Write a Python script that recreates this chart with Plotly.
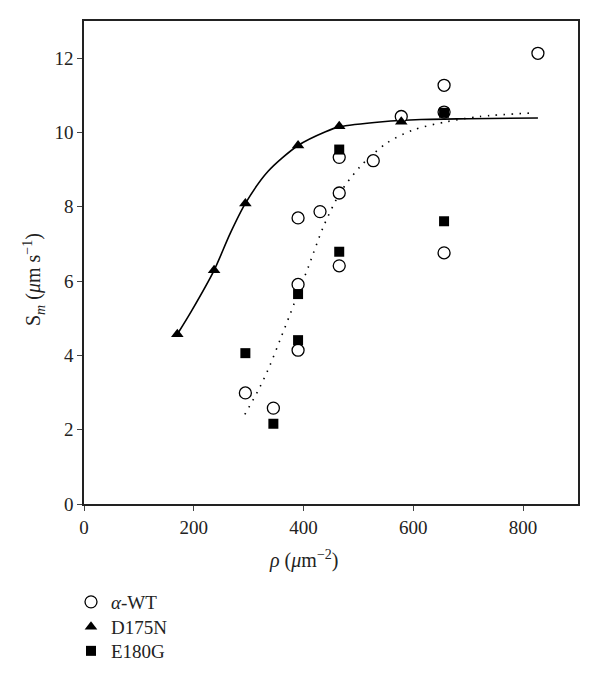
import plotly.graph_objects as go

# --- data ---
wt_x = [294, 345, 390, 390, 390, 430, 465, 465, 465, 527, 578, 656, 656, 656, 827]
wt_y = [2.99, 2.58, 4.14, 5.91, 7.70, 7.87, 6.41, 8.37, 9.33, 9.24, 10.43, 6.76, 10.55, 11.27, 12.13]

d175_x = [170, 237, 294, 390, 465, 578]
d175_y = [4.57, 6.29, 8.09, 9.65, 10.17, 10.29]

e180_x = [294, 345, 390, 390, 465, 465, 656, 656]
e180_y = [4.06, 2.16, 4.41, 5.65, 6.79, 9.54, 7.61, 10.53]

# fitted curves
fit_d175_x = [170, 196, 237, 266, 294, 335, 390, 440, 465, 544, 614, 700, 827]
fit_d175_y = [4.57, 5.2, 6.29, 7.27, 8.09, 8.95, 9.65, 10.02, 10.15, 10.29, 10.35, 10.37, 10.39]

fit_wt_x = [293, 321, 339, 357, 375, 390, 409, 436, 466, 503, 551, 600, 661, 721, 822]
fit_wt_y = [2.41, 3.16, 3.74, 4.41, 5.09, 5.67, 6.39, 7.46, 8.36, 9.08, 9.71, 10.07, 10.29, 10.43, 10.53]

x_ticks = [0, 200, 400, 600, 800]
y_ticks = [0, 2, 4, 6, 8, 10, 12]

SERIF = "Liberation Serif"
FS = 19
W, H = 600, 682

fig = go.Figure()

fig.add_trace(go.Scatter(x=fit_d175_x, y=fit_d175_y, mode="lines",
                         line=dict(color="black", width=1.6, shape="spline", smoothing=0.8),
                         showlegend=False, hoverinfo="skip"))
fig.add_trace(go.Scatter(x=fit_wt_x, y=fit_wt_y, mode="lines",
                         line=dict(color="black", width=1.6, dash="1.5px,6.5px", shape="spline", smoothing=0.8),
                         showlegend=False, hoverinfo="skip"))

fig.add_trace(go.Scatter(x=wt_x, y=wt_y, mode="markers", name="<i>α</i>-WT", legend="legend",
                         marker=dict(symbol="circle", size=12, color="white",
                                     line=dict(color="black", width=1.3))))
fig.add_trace(go.Scatter(x=d175_x, y=d175_y, mode="markers", name="D175N", legend="legend2",
                         marker=dict(symbol="triangle-up", size=11, color="black",
                                     line=dict(width=0))))
fig.add_trace(go.Scatter(x=e180_x, y=e180_y, mode="markers", name="E180G", legend="legend3",
                         marker=dict(symbol="square", size=10, color="black",
                                     line=dict(width=0))))

axis_common = dict(showgrid=False, zeroline=False, showline=True, linecolor="#222",
                   linewidth=1.5, mirror=True, ticks="outside", ticklen=5, tickwidth=1.3,
                   tickcolor="#444", tickfont=dict(family=SERIF, size=FS, color="#222"))

fig.update_xaxes(range=[0, 900], tickvals=x_ticks, ticktext=[str(v) for v in x_ticks], **axis_common)
fig.update_yaxes(range=[0, 13], tickvals=y_ticks, ticktext=[str(v) for v in y_ticks], **axis_common)

fig.add_annotation(text="<i>ρ</i> (<i>μ</i>m<sup>−2</sup>)", xref="paper", yref="paper",
                   x=(303 - 84) / 494, y=-(559 - 504) / 483, xanchor="center", yanchor="middle",
                   showarrow=False, font=dict(family=SERIF, size=20, color="#222"))
fig.add_annotation(text="S<sub><i>m</i></sub> (<i>μ</i>m s<sup>−1</sup>)", xref="paper", yref="paper",
                   x=-(84 - 34) / 494, y=(504 - 280) / 483, xanchor="center", yanchor="middle",
                   textangle=-90, showarrow=False, font=dict(family=SERIF, size=20, color="#222"))


def leg(row_y):
    return dict(xref="container", yref="container", x=71 / W, y=1 - row_y / H,
                xanchor="left", yanchor="middle",
                font=dict(family=SERIF, size=FS, color="#222"),
                bgcolor="rgba(0,0,0,0)", borderwidth=0, itemsizing="trace")


fig.update_layout(
    width=W, height=H,
    margin=dict(l=84, r=22, t=21, b=178, autoexpand=False),
    plot_bgcolor="white", paper_bgcolor="white",
    legend=leg(602), legend2=leg(627), legend3=leg(651),
)

fig.write_html("out.html", config={"displayModeBar": False},
               post_script="document.body.style.margin='0';document.body.style.padding='0';")
